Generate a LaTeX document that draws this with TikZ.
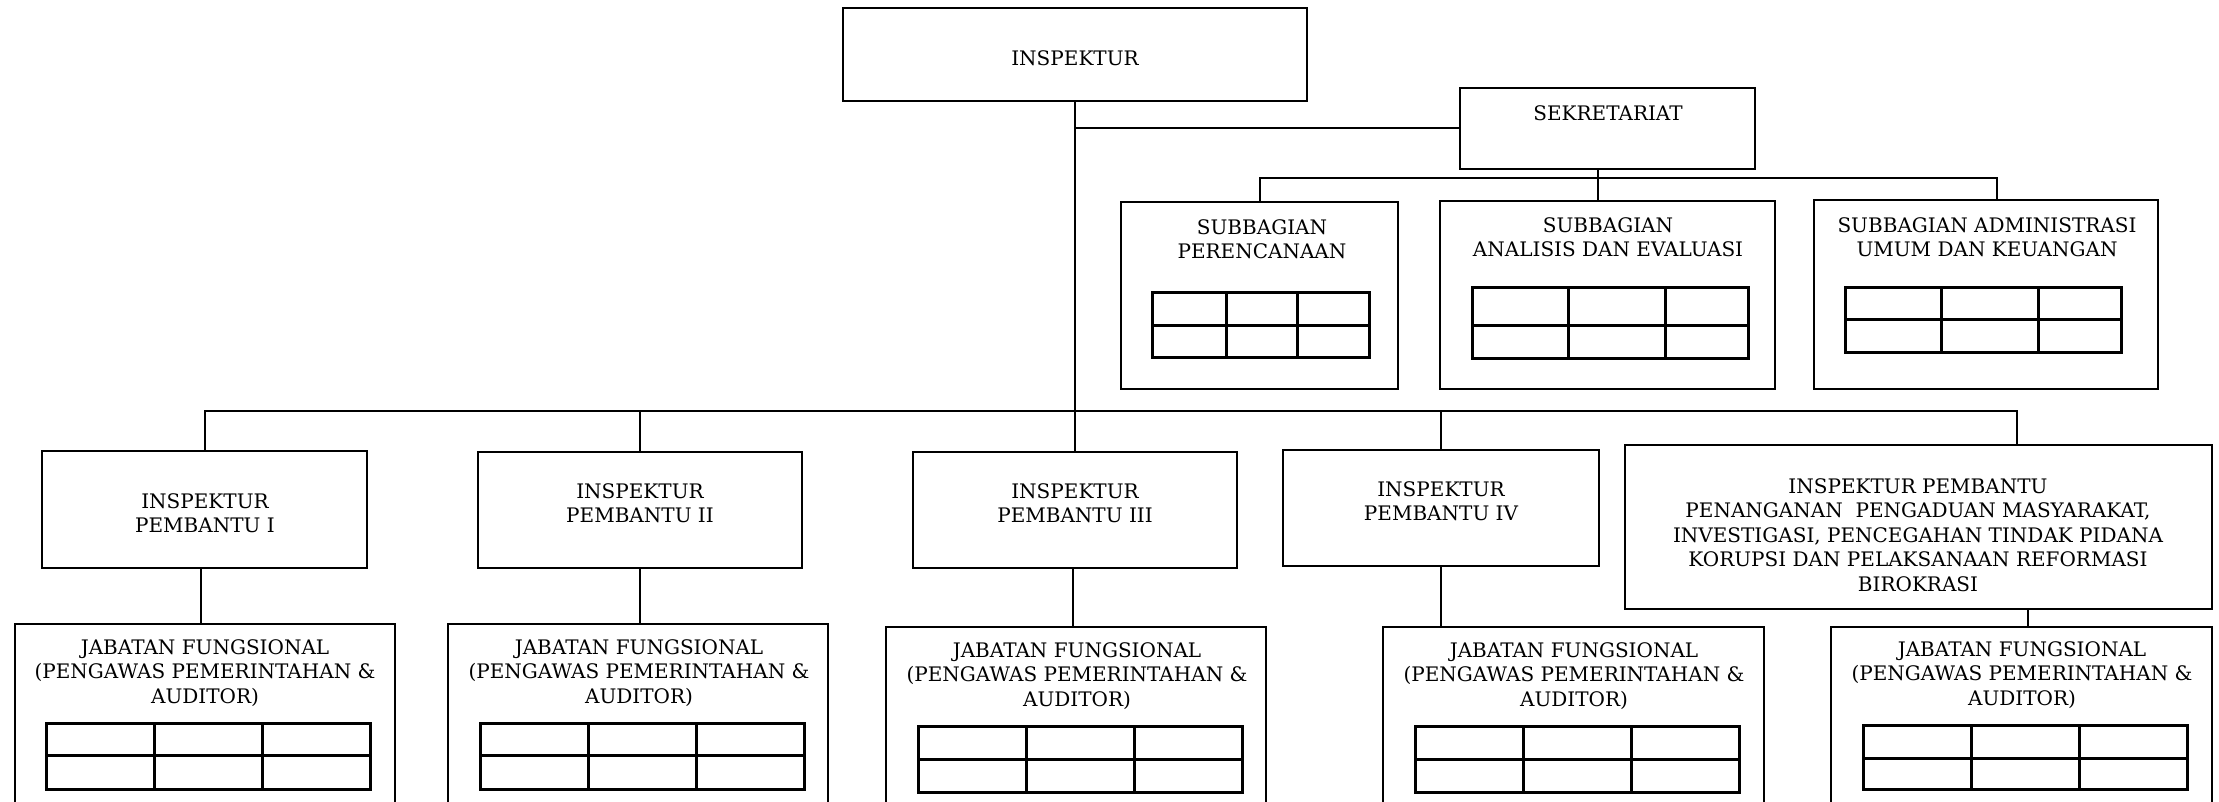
\documentclass[tikz,border=0pt]{standalone}
\usepackage{fontspec}
\setmainfont{DejaVu Serif}
\newcommand{\orgbox}[5]{\node[box, minimum width={(#4-#2)*0.5pt}, minimum height={(#5-#3)*0.5pt}] (#1) at ({(#2+#4)/2},{(#3+#5)/2}) {};}
\newcommand{\orgtbl}[7]{\draw[grid] (#1,#5) rectangle (#2,#7); \draw[grid] (#1,#6) -- (#2,#6) (#3,#5) -- (#3,#7) (#4,#5) -- (#4,#7);}
\begin{document}
\begin{tikzpicture}[x=0.5pt,y=-0.5pt,
  box/.style={draw, line width=0.7pt, inner sep=0pt},
  conn/.style={draw, line width=1pt},
  grid/.style={line width=1.5pt},
  lbl/.style={align=center, font=\fontsize{10}{12.25}\selectfont, inner sep=0pt}]
\clip (0,0) rectangle (2219,802);
\fill[white] (0,0) rectangle (2219,802);
% boxes
\orgbox{insp}{843}{8}{1307}{101}
\orgbox{sek}{1460}{88}{1755}{169}
\orgbox{sub1}{1121}{202}{1398}{389}
\orgbox{sub2}{1440}{201}{1775}{389}
\orgbox{sub3}{1814}{200}{2158}{389}
\orgbox{ip1}{42}{451}{367}{568}
\orgbox{ip2}{478}{452}{802}{568}
\orgbox{ip3}{913}{452}{1237}{568}
\orgbox{ip4}{1283}{450}{1599}{566}
\orgbox{ip5}{1625}{445}{2212}{609}
\orgbox{j1}{15}{624}{395}{830}
\orgbox{j2}{448}{624}{828}{830}
\orgbox{j3}{886}{627}{1266}{830}
\orgbox{j4}{1383}{627}{1764}{830}
\orgbox{j5}{1831}{627}{2212}{830}
% texts
\node[lbl] (tinsp) at (1075,58) {INSPEKTUR};
\node[lbl] (tsek) at (1608,113) {SEKRETARIAT};
\node[lbl] (tsub1) at (1262,239) {SUBBAGIAN\\PERENCANAAN};
\node[lbl] (tsub2) at (1608,237) {SUBBAGIAN\\ANALISIS DAN EVALUASI};
\node[lbl] (tsub3) at (1987,237) {SUBBAGIAN ADMINISTRASI\\UMUM DAN KEUANGAN};
\node[lbl] (tip1) at (205,513) {INSPEKTUR\\PEMBANTU I};
\node[lbl] (tip2) at (640,503) {INSPEKTUR\\PEMBANTU II};
\node[lbl] (tip3) at (1075,503) {INSPEKTUR\\PEMBANTU III};
\node[lbl] (tip4) at (1441,501) {INSPEKTUR\\PEMBANTU IV};
\node[lbl] (tip5) at (1918,535) {INSPEKTUR PEMBANTU\\PENANGANAN\ \ PENGADUAN MASYARAKAT,\\INVESTIGASI, PENCEGAHAN TINDAK PIDANA\\KORUPSI DAN PELAKSANAAN REFORMASI\\BIROKRASI};
\node[lbl] (tj1) at (205,673) {JABATAN FUNGSIONAL\\(PENGAWAS PEMERINTAHAN \&\\AUDITOR)};
\node[lbl] (tj2) at (639,673) {JABATAN FUNGSIONAL\\(PENGAWAS PEMERINTAHAN \&\\AUDITOR)};
\node[lbl] (tj3) at (1077,676) {JABATAN FUNGSIONAL\\(PENGAWAS PEMERINTAHAN \&\\AUDITOR)};
\node[lbl] (tj4) at (1574,676) {JABATAN FUNGSIONAL\\(PENGAWAS PEMERINTAHAN \&\\AUDITOR)};
\node[lbl] (tj5) at (2022,675) {JABATAN FUNGSIONAL\\(PENGAWAS PEMERINTAHAN \&\\AUDITOR)};
% tables
\orgtbl{1152}{1369}{1226}{1297}{292}{325}{357}
\orgtbl{1472}{1748}{1568}{1665}{287}{325}{358}
\orgtbl{1845}{2121}{1941}{2038}{287}{319}{352}
\orgtbl{46}{370}{154}{262}{723}{755}{789}
\orgtbl{480}{804}{588}{696}{723}{755}{789}
\orgtbl{918}{1242}{1026}{1134}{726}{759}{792}
\orgtbl{1415}{1739}{1523}{1631}{726}{759}{792}
\orgtbl{1863}{2187}{1971}{2079}{725}{758}{789}
% connectors
\coordinate (sekd) at (1598,178);
\coordinate (sbR) at (1997,178);
\coordinate (mbR) at (2017,411);
\draw[conn] (insp.south) -- (insp.south |- ip3.north);
\draw[conn] (insp.south |- sek.west) -- (sek.west);
\draw[conn] (sek.south -| sekd) -- (sub2.north -| sekd);
\draw[conn] (sub1.north) |- (sbR) -- (sub3.north -| sbR);
\draw[conn] (ip1.north) |- (mbR) -- (ip5.north -| mbR);
\draw[conn] (ip2.north) -- (ip2.north |- mbR);
\draw[conn] (ip4.north) -- (ip4.north |- mbR);
\draw[conn] ([xshift=-2pt]ip1.south) -- ([xshift=-2pt]ip1.south |- j1.north);
\draw[conn] (ip2.south) -- (ip2.south |- j2.north);
\draw[conn] ([xshift=-1pt]ip3.south) -- ([xshift=-1pt]ip3.south |- j3.north);
\draw[conn] (ip4.south) -- (ip4.south |- j4.north);
\draw[conn] ([xshift=3pt]j5.north) -- ([xshift=3pt]j5.north |- ip5.south);
\end{tikzpicture}
\end{document}
